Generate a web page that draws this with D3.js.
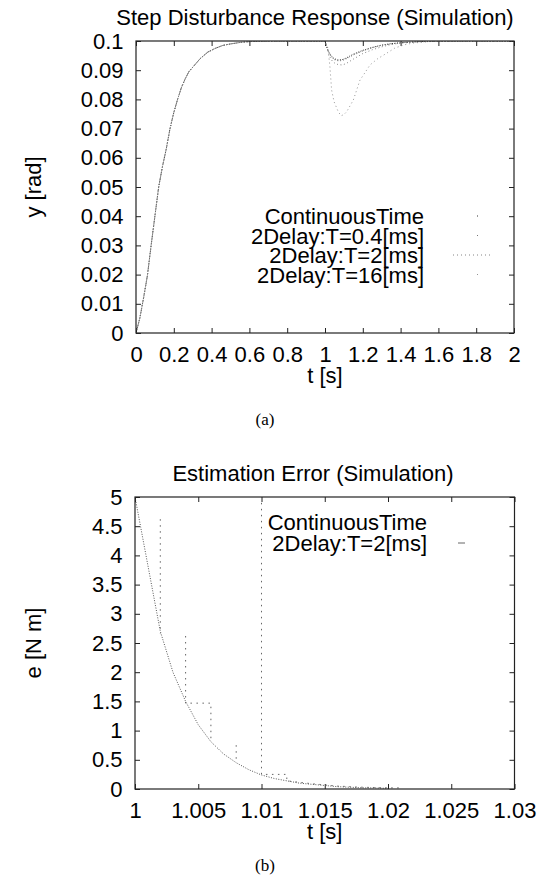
<!DOCTYPE html>
<meta charset="utf-8">
<style>
body { margin: 0; background: #fff; }
svg { display: block; font-family: "Liberation Sans", Arial, Helvetica, sans-serif; }
.axis text { font-size: 22px; fill: #000; }
.axis line { stroke: #222; }
.axis path { display: none; }
.frame { fill: none; stroke: #222; stroke-width: 1.2; }
.title, .label, .key { font-size: 22px; fill: #000; }
.caption { font-family: "Liberation Serif", "Times New Roman", serif; font-size: 17px; }
.curve { fill: none; }
</style>
<body>
<script src="https://d3js.org/d3.v7.min.js"></script>
<script>
// ---------- (a) step disturbance response ----------
var riseTime  = [0, 0.02, 0.04, 0.06, 0.08, 0.10, 0.12, 0.14, 0.16, 0.18, 0.20, 0.22, 0.24, 0.26, 0.28, 0.30, 0.34, 0.38, 0.42, 0.46, 0.50, 0.55, 0.60, 0.70, 0.80, 0.90];
var riseValue = [0, 0.005, 0.012, 0.0195, 0.030, 0.040, 0.050, 0.057, 0.063, 0.070, 0.0755, 0.080, 0.084, 0.087, 0.0895, 0.091, 0.094, 0.0962, 0.0975, 0.0985, 0.099, 0.0995, 0.0998, 0.1, 0.1, 0.1];

var dipTime = [1.0, 1.01, 1.02, 1.03, 1.04, 1.05, 1.07, 1.09, 1.11, 1.13, 1.15, 1.2, 1.25, 1.3, 1.35, 1.4, 1.5, 1.6, 2.0];
var dipCont = [0.1, 0.0978, 0.0963, 0.0952, 0.0944, 0.0939, 0.0935, 0.0936, 0.0941, 0.0948, 0.0955, 0.0968, 0.0978, 0.0986, 0.0991, 0.0994, 0.0998, 0.1, 0.1];
var dipT04  = [0.1, 0.0977, 0.0961, 0.0950, 0.0941, 0.0936, 0.0932, 0.0933, 0.0938, 0.0945, 0.0952, 0.0966, 0.0977, 0.0985, 0.0990, 0.0994, 0.0998, 0.1, 0.1];
var dipT2   = [0.1, 0.0975, 0.0955, 0.0940, 0.0930, 0.0925, 0.0919, 0.0918, 0.0922, 0.0930, 0.0938, 0.0957, 0.0970, 0.0980, 0.0988, 0.0993, 0.0997, 0.0999, 0.1];
var dipTime16 = [1.0, 1.016, 1.026, 1.035, 1.048, 1.07, 1.085, 1.1, 1.115, 1.15, 1.185, 1.21, 1.238, 1.28, 1.326, 1.37, 1.42, 1.465, 1.55, 1.6, 2.0];
var dipT16    = [0.1, 0.0975, 0.0912, 0.0832, 0.0792, 0.0758, 0.0744, 0.0748, 0.0758, 0.0798, 0.0866, 0.089, 0.0918, 0.094, 0.0958, 0.0976, 0.0987, 0.0993, 0.0998, 0.1, 0.1];

var stepXTicks = [0, 0.2, 0.4, 0.6, 0.8, 1, 1.2, 1.4, 1.6, 1.8, 2];
var stepYTicks = [0, 0.01, 0.02, 0.03, 0.04, 0.05, 0.06, 0.07, 0.08, 0.09, 0.1];
var stepNames  = ["ContinuousTime", "2Delay:T=0.4[ms]", "2Delay:T=2[ms]", "2Delay:T=16[ms]"];

// ---------- (b) estimation error ----------
var errTime = [1.000, 1.002, 1.003, 1.004, 1.005, 1.006, 1.007, 1.008, 1.009, 1.010, 1.011, 1.012, 1.013, 1.014, 1.015, 1.016, 1.017, 1.018, 1.019, 1.020];
var errCont = [5.0, 2.70, 2.0, 1.50, 1.10, 0.81, 0.60, 0.45, 0.33, 0.24, 0.18, 0.14, 0.10, 0.08, 0.06, 0.04, 0.03, 0.02, 0.02, 0.01];
// null breaks the dotted trace of the sampled controller
var errTimeT2 = [1.002, 1.002, null, 1.004, 1.004, 1.006, 1.006, null, 1.008, 1.008, null, 1.010, 1.010, 1.012, 1.012, 1.014, 1.016, 1.018, 1.020, 1.0212];
var errT2     = [4.62, 2.66, null, 2.62, 1.47, 1.47, 0.80, null, 0.75, 0.45, null, 4.9, 0.25, 0.25, 0.14, 0.09, 0.05, 0.03, 0.02, 0.02];

var errXTicks = [1, 1.005, 1.01, 1.015, 1.02, 1.025, 1.03];
var errYTicks = [0, 0.5, 1, 1.5, 2, 2.5, 3, 3.5, 4, 4.5, 5];
var errNames  = ["ContinuousTime", "2Delay:T=2[ms]"];

var svg = d3.select("body").append("svg")
    .attr("width", 538)
    .attr("height", 890);

function zip(ts, vs) {
    return ts.map(function(t, i) { return [t, vs[i]]; });
}

function panel(p) {
    var x = d3.scaleLinear().domain(p.xDomain).range([p.left, p.right]);
    var y = d3.scaleLinear().domain(p.yDomain).range([p.bottom, p.top]);
    var g = svg.append("g");

    // clip so curves stay in the box
    var cid = "clip" + p.id;
    svg.append("clipPath").attr("id", cid).append("rect")
        .attr("x", p.left).attr("y", p.top)
        .attr("width", p.right - p.left).attr("height", p.bottom - p.top);

    // ticks on all four sides, pointing in
    g.append("g").attr("class", "axis")
        .attr("transform", "translate(0," + p.bottom + ")")
        .call(d3.axisBottom(x).tickValues(p.xTicks).tickSize(-5).tickPadding(13.5).tickFormat(String));
    g.append("g").attr("class", "axis")
        .attr("transform", "translate(0," + p.top + ")")
        .call(d3.axisTop(x).tickValues(p.xTicks).tickSize(-5).tickFormat(""));
    g.append("g").attr("class", "axis")
        .attr("transform", "translate(" + p.left + ",0)")
        .call(d3.axisLeft(y).tickValues(p.yTicks).tickSize(-5).tickPadding(12.5).tickFormat(String));
    g.append("g").attr("class", "axis")
        .attr("transform", "translate(" + p.right + ",0)")
        .call(d3.axisRight(y).tickValues(p.yTicks).tickSize(-5).tickFormat(""));
    g.selectAll(".axis text").attr("font-family", null);

    var line = d3.line()
        .defined(function(d) { return d[0] != null && d[1] != null; })
        .x(function(d) { return x(d[0]); })
        .y(function(d) { return y(d[1]); });

    g.append("g").attr("clip-path", "url(#" + cid + ")")
        .selectAll("path")
        .data(p.series)
        .enter().append("path")
        .attr("class", "curve")
        .attr("d", function(s) { return line(s.points); })
        .attr("stroke", function(s) { return s.color; })
        .attr("stroke-width", function(s) { return s.width; })
        .attr("stroke-dasharray", function(s) { return s.dash; });

    g.append("rect").attr("class", "frame")
        .attr("x", p.left).attr("y", p.top)
        .attr("width", p.right - p.left).attr("height", p.bottom - p.top);

    // key
    var key = g.selectAll(".keyrow")
        .data(p.series)
        .enter().append("g")
        .attr("transform", function(s, i) { return "translate(0," + (p.keyTop + i * p.keyStep) + ")"; });
    key.append("text").attr("class", "key")
        .attr("x", p.keyRight).attr("y", 8)
        .attr("text-anchor", "end")
        .text(function(s) { return s.name; });
    key.append("line")
        .attr("x1", p.keyRight + 29).attr("x2", p.keyRight + 69)
        .attr("stroke", function(s) { return s.color; })
        .attr("stroke-width", function(s) { return s.width; })
        .attr("stroke-dasharray", function(s) { return s.keyDash; });

    g.append("text").attr("class", "title")
        .attr("x", p.titleX).attr("y", p.top - 16)
        .attr("text-anchor", "middle")
        .text(p.title);
    g.append("text").attr("class", "label")
        .attr("x", (p.left + p.right) / 2).attr("y", p.bottom + 50)
        .attr("text-anchor", "middle")
        .text(p.xLabel);
    g.append("text").attr("class", "label")
        .attr("transform", "translate(" + p.yLabelX + "," + (p.top + p.bottom) / 2 + ") rotate(-90)")
        .attr("text-anchor", "middle")
        .text(p.yLabel);
    g.append("text").attr("class", "caption")
        .attr("x", 265).attr("y", p.bottom + p.captionDy)
        .attr("text-anchor", "middle")
        .text(p.caption);
}

panel({
    id: "a",
    left: 136, right: 514, top: 41, bottom: 333,
    xDomain: [0, 2], yDomain: [0, 0.1],
    xTicks: stepXTicks, yTicks: stepYTicks,
    title: "Step Disturbance Response (Simulation)", titleX: 315,
    xLabel: "t [s]", yLabel: "y [rad]", yLabelX: 41, caption: "(a)", captionDy: 92,
    keyTop: 216, keyStep: 19.5, keyRight: 424,
    series: [
        { name: stepNames[0], points: zip(riseTime.concat(dipTime), riseValue.concat(dipCont)), color: "#333", width: 1, dash: "1,1.5", keyDash: "0,24,1,60" },
        { name: stepNames[1], points: zip(riseTime.concat(dipTime), riseValue.concat(dipT04)), color: "#666", width: 0.9, dash: "1,2", keyDash: "0,24,1,60" },
        { name: stepNames[2], points: zip(riseTime.concat(dipTime), riseValue.concat(dipT2)), color: "#777", width: 0.9, dash: "1,2.5", keyDash: "1,3" },
        { name: stepNames[3], points: zip(riseTime.concat(dipTime16), riseValue.concat(dipT16)), color: "#888", width: 0.9, dash: "1,3", keyDash: "0,24,1,60" }
    ]
});

panel({
    id: "b",
    left: 135, right: 514.5, top: 497, bottom: 789,
    xDomain: [1, 1.03], yDomain: [0, 5],
    xTicks: errXTicks, yTicks: errYTicks,
    title: "Estimation Error (Simulation)", titleX: 313,
    xLabel: "t [s]", yLabel: "e [N m]", yLabelX: 41, caption: "(b)", captionDy: 82,
    keyTop: 522, keyStep: 21, keyRight: 427,
    series: [
        { name: errNames[0], points: zip(errTime, errCont), color: "#555", width: 1, dash: "1,1.5", keyDash: "0,40" },
        { name: errNames[1], points: zip(errTimeT2, errT2), color: "#555", width: 0.9, dash: "1.5,4.5", keyDash: "0,2,7,40" }
    ]
});
</script>
</body>
